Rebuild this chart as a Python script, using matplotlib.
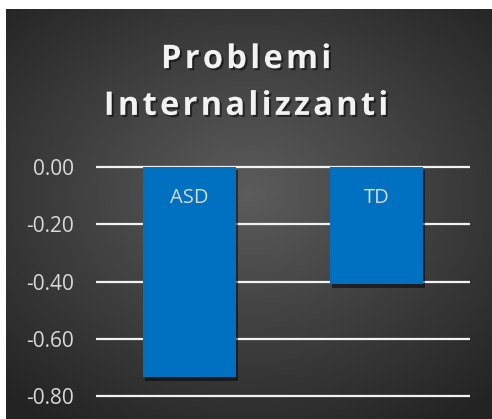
import matplotlib.pyplot as plt
import matplotlib.patheffects as pe
import numpy as np

# data
categories = ["ASD", "TD"]
values = [-0.735, -0.41]
yticks = [0.0, -0.2, -0.4, -0.6, -0.8]
title = "Problemi\nInternalizzanti"

W, H = 492, 419
fig = plt.figure(figsize=(W / 100, H / 100), dpi=100)
fig.patch.set_facecolor("white")

# dark panel with radial gradient
bg = fig.add_axes([6 / W, 0, 1 - 6 / W, (H - 9) / H])
bg.set_axis_off()
yy, xx = np.mgrid[0:1:300j, 0:1:300j]
r = np.sqrt((xx - 0.5) ** 2 + ((yy - 0.55) * 1.1) ** 2)
shade = 0.36 - 0.30 * r
shade = np.clip(shade, 0.14, 0.36)
rgb = np.dstack([shade, shade, shade])
bg.imshow(rgb, extent=[0, 1, 0, 1], aspect="auto", origin="lower")
bg.set_xlim(0, 1)
bg.set_ylim(0, 1)

ymin, ymax = -0.81, 0.01
ppu = 229 / 0.8
top_px = 167 - ymax * ppu
bot_px = 396 + (-0.8 - ymin) * ppu
ax = fig.add_axes([96 / W, (H - bot_px) / H, 374 / W, (bot_px - top_px) / H])
ax.patch.set_alpha(0)
for s in ax.spines.values():
    s.set_visible(False)

x = np.arange(len(categories))
ax.set_xlim(-0.5, len(categories) - 0.5)
ax.set_ylim(ymin, ymax)

for t in yticks:
    ax.axhline(t, color="#f2f2f2", lw=1.6, zorder=1)

bars = ax.bar(x, values, width=0.5, color="#0070c0", zorder=3)
for b in bars:
    b.set_path_effects([pe.SimplePatchShadow(offset=(1.5, -2.5), shadow_rgbFace="black", alpha=0.5),
                        pe.Normal()])

for xi, lab in zip(x, categories):
    ax.annotate(lab, (xi, 0), xytext=(0, -22.5), textcoords="offset points",
                ha="center", va="center", color="#d9d9d9", fontsize=14.5,
                family="Open Sans", zorder=4)

ax.set_xticks([])
ax.set_yticks(yticks)
ax.set_yticklabels([f"{t:.2f}" for t in yticks], color="#d9d9d9", fontsize=15,
                   family="Open Sans")
ax.tick_params(axis="y", length=0, pad=16)

# title with letter spacing
spaced = "\n".join("\u200a".join(line) for line in title.split("\n"))
fig.text(0.5, (H - 83) / H, spaced, ha="center", va="center", color="#f2f2f2",
         fontsize=23.5, fontweight="bold", family="Open Sans", linespacing=1.55,
         path_effects=[pe.withSimplePatchShadow(offset=(1.5, -1.5), shadow_rgbFace="black", alpha=0.5)])

fig.savefig("out.png", dpi=100)
